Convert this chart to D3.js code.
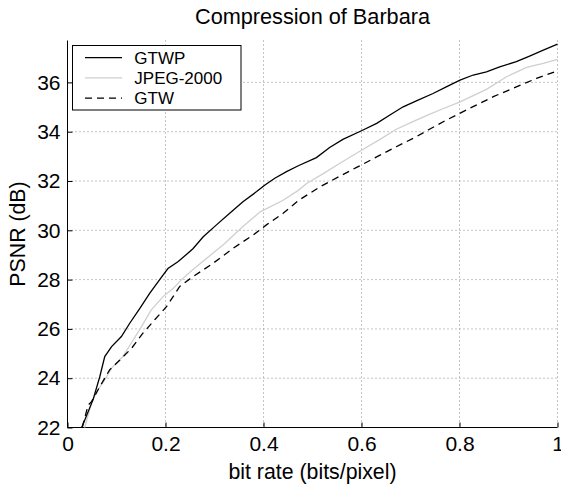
<!DOCTYPE html>
<html>
<head>
<meta charset="utf-8">
<script src="https://cdn.jsdelivr.net/npm/d3@7"></script>
<style>
  html, body { margin: 0; padding: 0; background: #fff; }
  svg text { font-family: "Liberation Sans", Arial, Helvetica, sans-serif; fill: #000; }
</style>
</head>
<body>
<div id="chart"></div>
<script>
// ---- data ----
const gtwpX = [0.029,0.052,0.066,0.076,0.090,0.110,0.127,0.148,0.168,0.190,0.205,0.226,0.256,0.277,0.304,0.331,0.358,0.386,0.403,0.423,0.447,0.471,0.508,0.535,0.562,0.600,0.631,0.658,0.685,0.712,0.746,0.773,0.801,0.828,0.855,0.882,0.916,0.943,0.971,1.0];
const gtwpY = [22.0,23.12,24.07,24.88,25.28,25.69,26.23,26.84,27.45,28.05,28.45,28.73,29.25,29.74,30.22,30.69,31.16,31.57,31.84,32.11,32.38,32.62,32.95,33.36,33.69,34.04,34.34,34.68,35.01,35.25,35.55,35.82,36.09,36.30,36.43,36.63,36.84,37.07,37.31,37.55];

const jpegX = [0.035,0.049,0.062,0.076,0.090,0.113,0.134,0.151,0.171,0.195,0.216,0.233,0.253,0.284,0.318,0.358,0.393,0.440,0.471,0.488,0.522,0.556,0.600,0.637,0.671,0.705,0.736,0.760,0.801,0.855,0.896,0.937,0.971,1.0];
const jpegY = [22.0,22.99,23.53,23.93,24.41,24.88,25.55,26.09,26.77,27.31,27.65,28.0,28.36,28.87,29.41,30.15,30.75,31.22,31.62,31.9,32.3,32.72,33.25,33.68,34.1,34.41,34.68,34.88,35.21,35.72,36.23,36.61,36.77,36.93];

const gtwX = [0.030,0.042,0.049,0.066,0.086,0.107,0.131,0.154,0.178,0.202,0.229,0.256,0.297,0.338,0.379,0.406,0.440,0.472,0.515,0.556,0.590,0.631,0.671,0.712,0.736,0.773,0.821,0.869,0.916,0.957,1.0];
const gtwY = [22.0,22.9,23.05,23.66,24.34,24.74,25.22,25.83,26.37,26.9,27.72,28.12,28.66,29.27,29.81,30.22,30.69,31.22,31.76,32.2,32.55,32.98,33.39,33.80,34.07,34.47,34.95,35.42,35.82,36.16,36.47];

const seriesNames = ["GTWP", "JPEG-2000", "GTW"];
const xTicks = [0, 0.2, 0.4, 0.6, 0.8, 1];
const xTickLabels = ["0", "0.2", "0.4", "0.6", "0.8", "1"];
const yTicks = [22, 24, 26, 28, 30, 32, 34, 36];
const yTickLabels = ["22", "24", "26", "28", "30", "32", "34", "36"];
const titleText = "Compression of Barbara";
const xLabel = "bit rate (bits/pixel)";
const yLabel = "PSNR (dB)";

// ---- layout ----
const W = 561, H = 488;
const mLeft = 67.5, mRight = 557.5, mTop = 40.5, mBottom = 427.5;

const svg = d3.select("#chart").append("svg")
  .attr("width", W).attr("height", H)
  .attr("viewBox", `0 0 ${W} ${H}`);

const x = d3.scaleLinear().domain([0, 1]).range([mLeft, mRight]);
const y = d3.scaleLinear().domain([22, 37.7]).range([mBottom, mTop]);

// grid
const grid = svg.append("g");
grid.selectAll("line.gx").data(xTicks.slice(1)).join("line")
  .attr("x1", d => x(d)).attr("x2", d => x(d))
  .attr("y1", mTop).attr("y2", mBottom)
  .attr("stroke", "#8a8a8a").attr("stroke-width", 1)
  .attr("stroke-dasharray", "1,3");
grid.selectAll("line.gy").data(yTicks).join("line")
  .attr("x1", mLeft).attr("x2", mRight)
  .attr("y1", d => y(d)).attr("y2", d => y(d))
  .attr("stroke", "#8a8a8a").attr("stroke-width", 1)
  .attr("stroke-dasharray", "1,3");

// axes
const xAxis = d3.axisBottom(x).tickValues(xTicks).tickSize(-5).tickPadding(12)
  .tickFormat((d, i) => xTickLabels[i]);
const gx = svg.append("g").attr("transform", `translate(0,${mBottom})`).call(xAxis);
gx.select(".domain").attr("d", `M${mLeft},0H${mRight}`).attr("stroke", "#000");
gx.selectAll(".tick line").attr("stroke", "#000");
gx.selectAll(".tick text").attr("font-size", 21).attr("font-family", null).attr("dy", "0.71em").attr("y", 9);

const yAxis = d3.axisLeft(y).tickValues(yTicks).tickSize(-5).tickPadding(12)
  .tickFormat((d, i) => yTickLabels[i]);
const gy = svg.append("g").attr("transform", `translate(${mLeft},0)`).call(yAxis);
gy.select(".domain").attr("d", `M0,${mTop}V${mBottom}`).attr("stroke", "#000");
gy.selectAll(".tick line").attr("stroke", "#000");
gy.selectAll(".tick text").attr("font-size", 21).attr("font-family", null).attr("x", -7);

// lines
const line = d3.line().x(d => x(d[0])).y(d => y(d[1]));
const zip = (a, b) => a.map((v, i) => [v, b[i]]);

const series = [
  { name: seriesNames[1], data: zip(jpegX, jpegY), color: "#cfcfcf", dash: null },
  { name: seriesNames[2], data: zip(gtwX, gtwY), color: "#000", dash: "7,5" },
  { name: seriesNames[0], data: zip(gtwpX, gtwpY), color: "#000", dash: null }
];

svg.append("g").selectAll("path").data(series).join("path")
  .attr("d", d => line(d.data))
  .attr("fill", "none")
  .attr("stroke", d => d.color)
  .attr("stroke-width", 1.3)
  .attr("stroke-dasharray", d => d.dash);

// legend
const legendItems = [
  { name: seriesNames[0], color: "#000", dash: null },
  { name: seriesNames[1], color: "#cfcfcf", dash: null },
  { name: seriesNames[2], color: "#000", dash: "7,5" }
];
const lg = svg.append("g");
lg.append("rect").attr("x", 72.5).attr("y", 45.5).attr("width", 168.5).attr("height", 64.5)
  .attr("fill", "#fff").attr("stroke", "#000").attr("stroke-width", 1);
const rowY = [57.7, 77.9, 98.2];
legendItems.forEach((it, i) => {
  lg.append("line").attr("x1", 85).attr("x2", 122).attr("y1", rowY[i]).attr("y2", rowY[i])
    .attr("stroke", it.color).attr("stroke-width", 1.3).attr("stroke-dasharray", it.dash);
  lg.append("text").attr("x", 134.3).attr("y", rowY[i]).attr("dy", "0.36em")
    .attr("font-size", 17).text(it.name);
});

// title & labels
svg.append("text").attr("x", (mLeft + mRight) / 2).attr("y", 23.5)
  .attr("text-anchor", "middle").attr("font-size", 21.7).text(titleText);
svg.append("text").attr("x", (mLeft + mRight) / 2).attr("y", 479)
  .attr("text-anchor", "middle").attr("font-size", 21.3).text(xLabel);
svg.append("text").attr("transform", `translate(25,${(mTop + mBottom) / 2}) rotate(-90)`)
  .attr("text-anchor", "middle").attr("font-size", 21.3).text(yLabel);
</script>
</body>
</html>
